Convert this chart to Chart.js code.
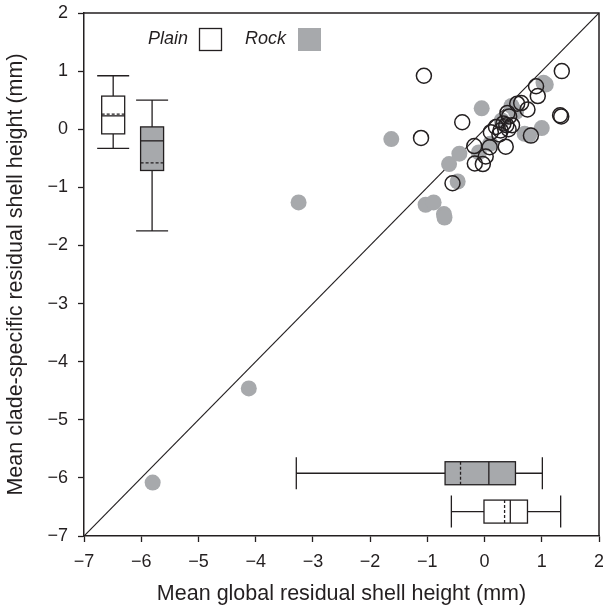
<!DOCTYPE html>
<html>
<head>
<meta charset="utf-8">
<script src="https://cdn.jsdelivr.net/npm/chart.js@4.4.0/dist/chart.umd.min.js"></script>
<style>
  body { margin: 0; background: #fff; }
  #wrap { width: 603px; height: 607px; }
</style>
</head>
<body>
<div id="wrap"><canvas id="chart" width="603" height="607"></canvas></div>
<script>
  // axis range (both axes share it)
  const axisMin = -7;
  const axisMax = 2;

  // open circles: plain
  const plainX = [-1.06, 1.35, -1.11, -0.39, -0.56, -0.18, -0.17, -0.03, 0.02, 0.09, 0.20, 0.28, 0.26, 0.37, 0.38, 0.43, 0.48, 0.57, 0.64, 0.75, 0.81, 0.90, 0.93, 1.32, 1.34, 0.40, 0.33, 0.42, 0.11];
  const plainY = [0.92, 1.00, -0.15, 0.12, -0.93, -0.29, -0.59, -0.60, -0.47, -0.31, 0.04, -0.02, -0.09, -0.30, 0.07, 0.22, 0.07, 0.44, 0.45, 0.34, -0.11, 0.74, 0.57, 0.24, 0.22, 0.28, 0.10, 0.00, -0.05];

  // grey dots: rock
  const rockX = [-5.80, -4.12, -3.25, -1.63, -1.03, -0.89, -0.71, -0.70, -0.62, -0.47, -0.44, -0.05, 1.07, 1.03, 1.00, 0.70, 0.78, 0.47, 0.30, 0.10, -0.10, 0.55];
  const rockY = [-6.08, -4.46, -1.26, -0.17, -1.30, -1.26, -1.46, -1.52, -0.60, -0.90, -0.42, 0.36, 0.77, 0.80, 0.02, -0.08, -0.10, 0.40, 0.15, -0.25, -0.40, 0.30];

  // 1:1 line
  const diagX = [-7, 2];
  const diagY = [-7, 2];

  // box summaries: [min, q1, median, mean, q3, max]
  const cladePlain = [-0.33, -0.08, 0.23, 0.26, 0.57, 0.92];
  const cladeRock = [-1.75, -0.71, -0.20, -0.58, 0.04, 0.50];
  const globalRock = [-3.29, -0.69, 0.075, -0.42, 0.54, 1.01];
  const globalPlain = [-0.58, -0.01, 0.45, 0.35, 0.75, 1.33];

  const INK = '#231f20';
  const GREY = '#a7a9ac';
  const FONT = '"Liberation Sans", Arial, Helvetica, sans-serif';

  function vBox(ctx, xs, ys, s, at, fill) {
    const cx = xs.getPixelForValue(at);
    const p = s.map(v => ys.getPixelForValue(v));
    const hw = 11.5, cap = 16;
    ctx.beginPath();
    ctx.moveTo(cx, p[0]); ctx.lineTo(cx, p[1]);
    ctx.moveTo(cx, p[4]); ctx.lineTo(cx, p[5]);
    ctx.moveTo(cx - cap, p[0]); ctx.lineTo(cx + cap, p[0]);
    ctx.moveTo(cx - cap, p[5]); ctx.lineTo(cx + cap, p[5]);
    ctx.stroke();
    ctx.fillStyle = fill;
    ctx.fillRect(cx - hw, p[4], hw * 2, p[1] - p[4]);
    ctx.strokeRect(cx - hw, p[4], hw * 2, p[1] - p[4]);
    ctx.beginPath();
    ctx.moveTo(cx - hw, p[2]); ctx.lineTo(cx + hw, p[2]);
    ctx.stroke();
    ctx.setLineDash([3, 2]);
    ctx.beginPath();
    ctx.moveTo(cx - hw, p[3]); ctx.lineTo(cx + hw, p[3]);
    ctx.stroke();
    ctx.setLineDash([]);
  }

  function hBox(ctx, xs, ys, s, at, fill) {
    const cy = ys.getPixelForValue(at);
    const p = s.map(v => xs.getPixelForValue(v));
    const hh = 11.5, cap = 16;
    ctx.beginPath();
    ctx.moveTo(p[0], cy); ctx.lineTo(p[1], cy);
    ctx.moveTo(p[4], cy); ctx.lineTo(p[5], cy);
    ctx.moveTo(p[0], cy - cap); ctx.lineTo(p[0], cy + cap);
    ctx.moveTo(p[5], cy - cap); ctx.lineTo(p[5], cy + cap);
    ctx.stroke();
    ctx.fillStyle = fill;
    ctx.fillRect(p[1], cy - hh, p[4] - p[1], hh * 2);
    ctx.strokeRect(p[1], cy - hh, p[4] - p[1], hh * 2);
    ctx.beginPath();
    ctx.moveTo(p[2], cy - hh); ctx.lineTo(p[2], cy + hh);
    ctx.stroke();
    ctx.setLineDash([3, 2]);
    ctx.beginPath();
    ctx.moveTo(p[3], cy - hh); ctx.lineTo(p[3], cy + hh);
    ctx.stroke();
    ctx.setLineDash([]);
  }

  const extras = {
    id: 'extras',
    afterDatasetsDraw(chart) {
      const { ctx, chartArea: a, scales: { x, y } } = chart;
      ctx.save();
      ctx.strokeStyle = INK;
      ctx.lineWidth = 1.3;
      // box plots
      vBox(ctx, x, y, cladePlain, -6.49, '#fff');
      vBox(ctx, x, y, cladeRock, -5.81, GREY);
      hBox(ctx, x, y, globalRock, -5.92, GREY);
      hBox(ctx, x, y, globalPlain, -6.58, '#fff');

      // frame top/right
      ctx.lineWidth = 1.5;
      ctx.beginPath();
      ctx.moveTo(a.left, a.top); ctx.lineTo(a.right, a.top); ctx.lineTo(a.right, a.bottom);
      ctx.stroke();

      // legend
      ctx.font = 'italic 18px ' + FONT;
      ctx.fillStyle = INK;
      ctx.textAlign = 'right';
      ctx.textBaseline = 'middle';
      ctx.fillText('Plain', 188, 39);
      ctx.fillText('Rock', 286, 39);
      ctx.lineWidth = 1.3;
      ctx.fillStyle = '#fff';
      ctx.fillRect(199.5, 28.5, 22, 22);
      ctx.strokeRect(199.5, 28.5, 22, 22);
      ctx.fillStyle = GREY;
      ctx.fillRect(298, 28, 23, 23);
      ctx.restore();
    }
  };

  const minus = v => String(v).replace('-', '\u2212');

  new Chart(document.getElementById('chart'), {
    type: 'scatter',
    data: {
      datasets: [
        {
          label: 'Plain',
          data: plainX.map((v, i) => ({ x: v, y: plainY[i] })),
          pointRadius: 7.5,
          pointBackgroundColor: 'rgba(0,0,0,0)',
          pointBorderColor: INK,
          pointBorderWidth: 1.5,
          order: 0
        },
        {
          label: 'Rock',
          data: rockX.map((v, i) => ({ x: v, y: rockY[i] })),
          pointRadius: 8,
          pointBackgroundColor: GREY,
          pointBorderWidth: 0,
          order: 1
        },
        {
          type: 'line',
          label: '1:1',
          data: diagX.map((v, i) => ({ x: v, y: diagY[i] })),
          borderColor: INK,
          borderWidth: 1.2,
          pointRadius: 0,
          order: 2
        }
      ]
    },
    options: {
      responsive: false,
      animation: false,
      events: [],
      layout: { autoPadding: false, padding: { top: 13, right: 4, left: 0, bottom: 0 } },
      plugins: { legend: { display: false }, tooltip: { enabled: false } },
      scales: {
        x: {
          type: 'linear',
          min: axisMin, max: axisMax,
          afterFit: s => { s.height = 71; s.paddingLeft = 0; s.paddingRight = 0; },
          grid: { drawOnChartArea: false, tickLength: 6, color: INK, tickWidth: 1.3 },
          border: { color: INK, width: 1.5 },
          ticks: { stepSize: 1, color: INK, padding: 9, font: { family: FONT, size: 18 }, callback: minus },
          title: { display: true, text: 'Mean global residual shell height (mm)', color: INK, padding: { top: 0, bottom: 0 }, font: { family: FONT, size: 21.5 } }
        },
        y: {
          type: 'linear',
          min: axisMin, max: axisMax,
          afterFit: s => { s.width = 84; s.paddingTop = 0; s.paddingBottom = 0; },
          grid: { drawOnChartArea: false, tickLength: 6, color: INK, tickWidth: 1.3 },
          border: { color: INK, width: 1.5 },
          ticks: { stepSize: 1, color: INK, padding: 10, font: { family: FONT, size: 18 }, callback: minus },
          title: { display: true, text: 'Mean clade-specific residual shell height (mm)', color: INK, padding: { top: 3, bottom: 0 }, font: { family: FONT, size: 21.5 } }
        }
      }
    },
    plugins: [extras]
  });
</script>
</body>
</html>
